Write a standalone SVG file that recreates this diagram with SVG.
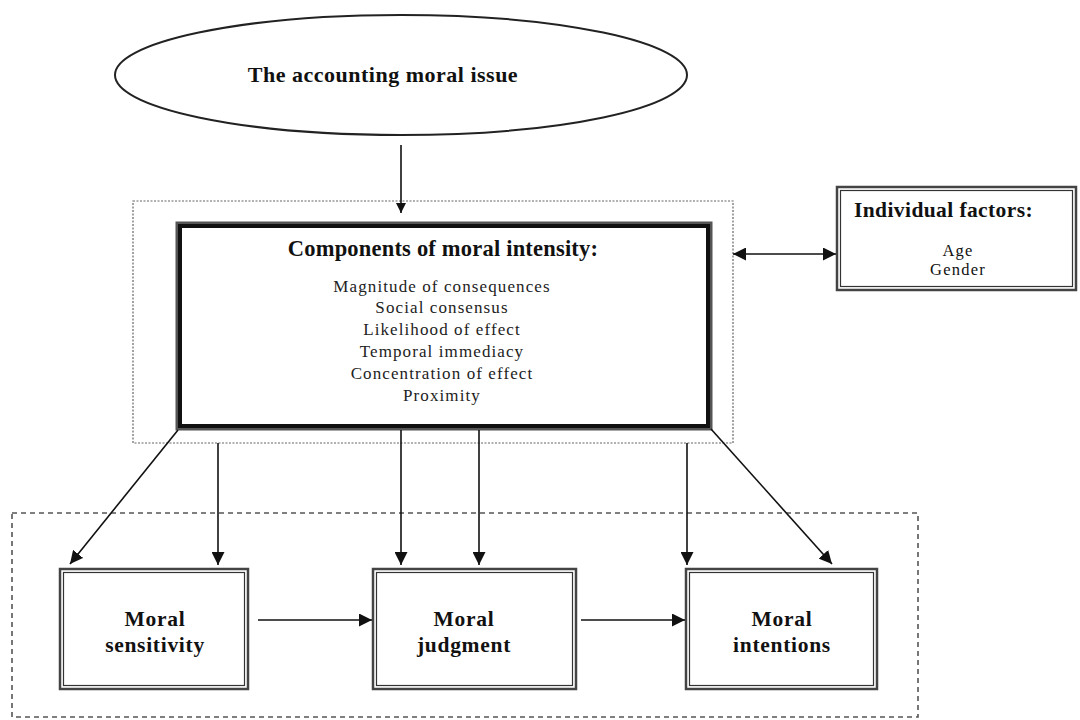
<svg xmlns="http://www.w3.org/2000/svg" width="1080" height="720" viewBox="0 0 1080 720">
<style>
.t{font-family:"Liberation Serif","Times New Roman",serif;fill:#111;text-anchor:middle}
.s{font-family:"Liberation Serif","Times New Roman",serif;fill:#111;text-anchor:start}
.b{font-weight:bold}
.lst{font-size:17px;letter-spacing:1.1px;fill:#222}
.mo{font-size:21.5px;letter-spacing:0.7px}
.conn line{stroke:#111;stroke-width:1.6}
</style>
<defs>
<marker id="ah" viewBox="0 0 10 10" refX="10" refY="5" markerWidth="10" markerHeight="10" markerUnits="userSpaceOnUse" orient="auto-start-reverse"><path d="M0,0 L10,5 L0,10 z" fill="#111"/></marker>
<marker id="ah2" viewBox="0 0 10 10" refX="10" refY="5" markerWidth="13" markerHeight="13" markerUnits="userSpaceOnUse" orient="auto-start-reverse"><path d="M0,0 L10,5 L0,10 z" fill="#111"/></marker>
</defs>
<rect width="1080" height="720" fill="#fff"/>
<g id="group-top">
<rect x="133" y="201" width="600" height="242" fill="none" stroke="#666" stroke-width="1.2" stroke-dasharray="2,1.5"/>
</g>
<g id="group-bottom">
<rect x="12" y="513" width="906" height="204" fill="none" stroke="#555" stroke-width="1.6" stroke-dasharray="5,4"/>
</g>
<g id="issue">
<ellipse cx="401" cy="75" rx="286" ry="60" fill="#fff" stroke="#222" stroke-width="2"/>
<text class="t b" x="383" y="82" font-size="22" letter-spacing="0.5">The accounting moral issue</text>
</g>
<g id="components">
<rect x="177" y="223" width="534" height="206" fill="#fff" stroke="#555" stroke-width="3"/>
<rect x="180" y="226" width="528" height="200" fill="none" stroke="#111" stroke-width="4"/>
<text class="t b" x="443" y="256" font-size="22.5" letter-spacing="0.2">Components of moral intensity:</text>
<text class="t lst" x="442" y="292">Magnitude of consequences</text>
<text class="t lst" x="442" y="313">Social consensus</text>
<text class="t lst" x="442" y="335">Likelihood of effect</text>
<text class="t lst" x="442" y="357">Temporal immediacy</text>
<text class="t lst" x="442" y="379">Concentration of effect</text>
<text class="t lst" x="442" y="401">Proximity</text>
</g>
<g id="individual">
<rect x="837" y="187" width="239" height="103" fill="#fff" stroke="#444" stroke-width="2.5"/>
<rect x="840.5" y="190.5" width="232" height="96" fill="none" stroke="#333" stroke-width="1.2"/>
<text class="s b" x="854" y="217" font-size="21.5" letter-spacing="0.4">Individual factors:</text>
<text class="t" x="958" y="256" font-size="16.5" letter-spacing="1.2" fill="#333">Age</text>
<text class="t" x="958" y="275" font-size="16.5" letter-spacing="1.2" fill="#333">Gender</text>
</g>
<g id="sensitivity">
<rect x="60" y="569" width="188" height="120" fill="#fff" stroke="#444" stroke-width="2.5"/>
<rect x="63.5" y="572.5" width="181" height="113" fill="none" stroke="#333" stroke-width="1.2"/>
<text class="t b mo" x="155" y="626">Moral</text>
<text class="t b mo" x="155" y="652">sensitivity</text>
</g>
<g id="judgment">
<rect x="373" y="569" width="203" height="120" fill="#fff" stroke="#444" stroke-width="2.5"/>
<rect x="376.5" y="572.5" width="196" height="113" fill="none" stroke="#333" stroke-width="1.2"/>
<text class="t b mo" x="464" y="626">Moral</text>
<text class="t b mo" x="464" y="652">judgment</text>
</g>
<g id="intentions">
<rect x="686" y="569" width="191" height="120" fill="#fff" stroke="#444" stroke-width="2.5"/>
<rect x="689.5" y="572.5" width="184" height="113" fill="none" stroke="#333" stroke-width="1.2"/>
<text class="t b mo" x="782" y="626">Moral</text>
<text class="t b mo" x="782" y="652">intentions</text>
</g>
<g id="connectors" class="conn">
<line x1="401" y1="145" x2="401" y2="213" marker-end="url(#ah)"/>
<line x1="733" y1="254" x2="836" y2="254" marker-start="url(#ah2)" marker-end="url(#ah2)" stroke-width="2"/>
<line x1="178" y1="430" x2="70" y2="564" marker-end="url(#ah2)"/>
<line x1="218" y1="443" x2="218" y2="565" marker-end="url(#ah2)" stroke-width="1.2"/>
<line x1="401" y1="430" x2="401" y2="565" marker-end="url(#ah2)" stroke-width="2"/>
<line x1="479" y1="430" x2="479" y2="565" marker-end="url(#ah2)" stroke-width="1.2"/>
<line x1="687" y1="443" x2="687" y2="565" marker-end="url(#ah2)" stroke-width="1.6"/>
<line x1="711" y1="429" x2="832" y2="564" marker-end="url(#ah2)"/>
<line x1="258" y1="620" x2="372" y2="620" marker-end="url(#ah2)"/>
<line x1="581" y1="620" x2="685" y2="620" marker-end="url(#ah2)"/>
</g>
</svg>
